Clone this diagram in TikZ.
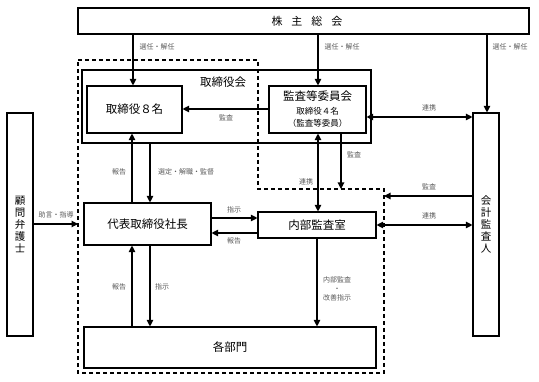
\documentclass[tikz,border=0pt]{standalone}
\usepackage{fontspec}
\newfontfamily\cjk{Noto Sans CJK JP}
\usetikzlibrary{arrows.meta}
\tikzset{
  box/.style={draw, line width=1.1pt, inner sep=0pt, font=\cjk\fontsize{11.5}{13}\selectfont},
  lbl/.style={font=\cjk\fontsize{7}{8}\selectfont, text=black!65, inner sep=0pt, align=center},
  arr/.style={line width=1.1pt, -{Triangle[length=6.5pt,width=6.5pt]}},
  darr/.style={line width=1.1pt, {Triangle[length=6.5pt,width=6.5pt]}-{Triangle[length=6.5pt,width=6.5pt]}},
  dashedframe/.style={line width=1.2pt, dash pattern=on 4pt off 3pt},
}
\begin{document}
\begin{tikzpicture}[x=1pt, y=-1pt]
\useasboundingbox (0,0) rectangle (539,382);
% dashed frame
\draw[dashedframe] (78,60) -- (258,60) -- (258,189) -- (384,189) -- (384,373) -- (78,373) -- cycle;
% boxes
\node[box, minimum width=451pt, minimum height=26pt] (sh) at (303.5,21) {};
\node[font=\cjk\fontsize{11}{13}\selectfont, inner sep=0pt] (shtext) at (307,21) {株\hspace{9pt}主\hspace{9pt}総\hspace{9pt}会};
\node[box, minimum width=289pt, minimum height=73pt] (bd) at (226.5,106.5) {};
\node[font=\cjk\fontsize{11.5}{13}\selectfont, inner sep=0pt] (bdtext) at (223,82) {取締役会};
\node[box, minimum width=95pt, minimum height=47pt] (d8) at (134.5,109.5) {取締役８名};
\node[box, minimum width=97pt, minimum height=47pt, align=center] (ac) at (317.5,109.5)
  {監査等委員会\\[1pt]{\fontsize{8.5}{10}\selectfont 取締役４名}\\[-1pt]{\fontsize{8.5}{10}\selectfont （監査等委員）}};
\node[box, minimum width=26pt, minimum height=223pt, align=center, font=\cjk\fontsize{10.5}{12}\selectfont] (adv) at (20,224.5) {顧\\問\\弁\\護\\士};
\node[box, minimum width=26pt, minimum height=223pt, align=center, font=\cjk\fontsize{10.5}{12}\selectfont] (aud) at (486,224.5) {会\\計\\監\\査\\人};
\node[box, minimum width=127pt, minimum height=42pt] (ceo) at (147.5,224) {代表取締役社長};
\node[box, minimum width=118pt, minimum height=26pt] (ia) at (317,225) {内部監査室};
\node[box, minimum width=292pt, minimum height=41pt] (dept) at (230,347.5) {各部門};
% helper coordinates
\coordinate (c133) at (133,0);
\coordinate (c318) at (318,0);
\coordinate (c487) at (487,0);
\coordinate (c132) at (132,0);
\coordinate (c150) at (150,0);
\coordinate (c341) at (341,0);
\coordinate (c317) at (317,0);
\coordinate (y109) at (0,109);
\coordinate (y117) at (0,117);
\coordinate (y196) at (0,196);
\coordinate (y218) at (0,218);
\coordinate (y233) at (0,233);
\coordinate (y224) at (0,224);
\coordinate (dtop) at (341,189);
\coordinate (dright) at (384,196);
\coordinate (dleft) at (78,224);
% arrows
\draw[arr] (sh.south -| c133) -- (d8.north -| c133);
\draw[arr] (sh.south -| c318) -- (ac.north -| c318);
\draw[arr] (sh.south -| c487) -- (aud.north -| c487);
\draw[arr] (ac.west |- y109) -- (d8.east |- y109);
\draw[darr] (ac.east |- y117) -- (aud.west |- y117);
\draw[arr] (ceo.north -| c132) -- (d8.south -| c132);
\draw[arr] (bd.south -| c150) -- (ceo.north -| c150);
\draw[darr] (ac.south -| c318) -- (ia.north -| c318);
\draw[arr] (ac.south -| c341) -- (dtop);
\draw[arr] (aud.west |- y196) -- (dright);
\draw[darr] (ia.east) -- (aud.west |- ia.east);
\draw[arr] (ceo.east |- y218) -- (ia.west |- y218);
\draw[arr] (ia.west |- y233) -- (ceo.east |- y233);
\draw[arr] (adv.east |- y224) -- (dleft);
\draw[arr] (dept.north -| c132) -- (ceo.south -| c132);
\draw[arr] (ceo.south -| c150) -- (dept.north -| c150);
\draw[arr] (ia.south -| c317) -- (dept.north -| c317);
% labels
\node[lbl] (l1) at (157,47) {選任・解任};
\node[lbl] (l2) at (342,47) {選任・解任};
\node[lbl] (l3) at (510,47) {選任・解任};
\node[lbl] (l4) at (226,118) {監査};
\node[lbl] (l5) at (429,108) {連携};
\node[lbl] (l6) at (119,172) {報告};
\node[lbl] (l7) at (186,172) {選定・解職・監督};
\node[lbl] (l8) at (354,155) {監査};
\node[lbl] (l9) at (306,182) {連携};
\node[lbl] (l10) at (429,187) {監査};
\node[lbl] (l11) at (429,216) {連携};
\node[lbl] (l12) at (234,210) {指示};
\node[lbl] (l13) at (234,241) {報告};
\node[lbl] (l14) at (56,215) {助言・指導};
\node[lbl] (l15) at (119,287) {報告};
\node[lbl] (l16) at (162,287) {指示};
\node[lbl, font=\cjk\fontsize{7}{9}\selectfont] (l17) at (337,289) {内部監査\\・\\改善指示};
\end{tikzpicture}
\end{document}
